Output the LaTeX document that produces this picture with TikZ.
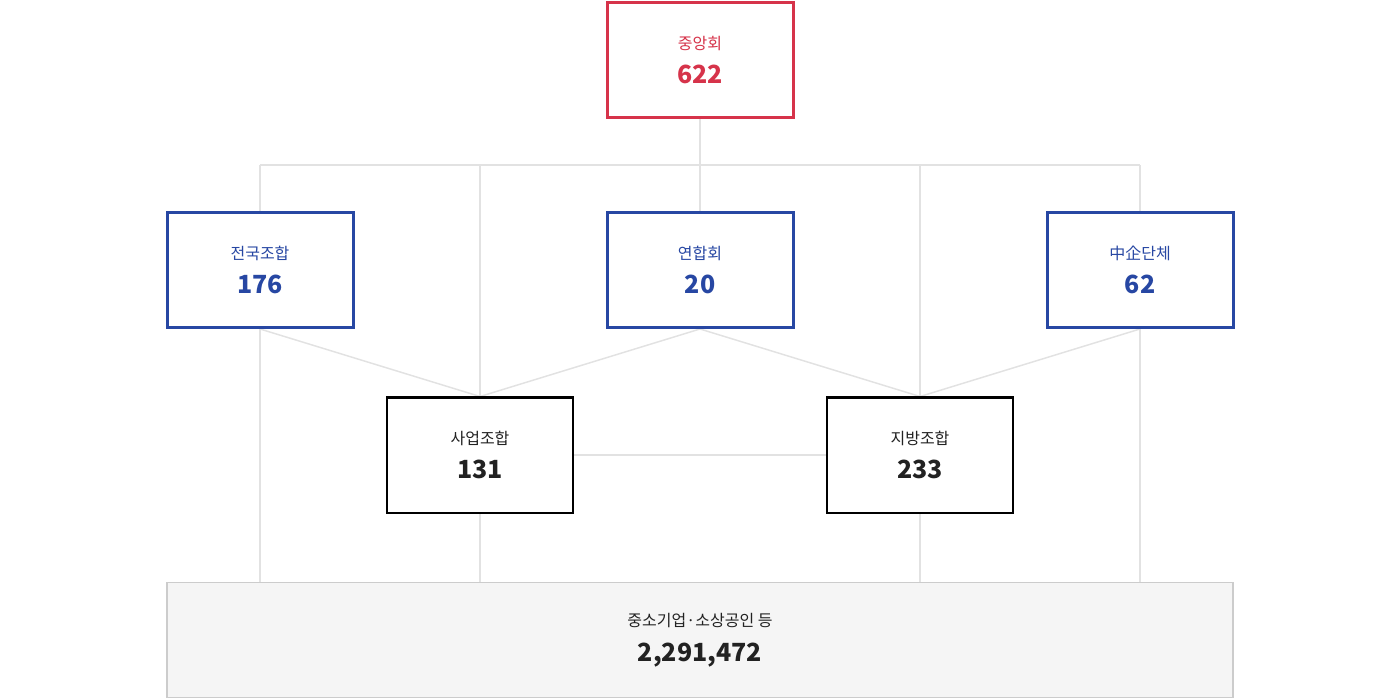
\documentclass[tikz,border=0pt]{standalone}
\usepackage{fontspec}
\setmainfont{Noto Sans CJK KR}
\usetikzlibrary{positioning,backgrounds}
\definecolor{redline}{HTML}{D6334A}
\definecolor{blueline}{HTML}{2747A3}
\definecolor{grayline}{HTML}{E2E2E2}
\definecolor{textdark}{HTML}{222222}
\tikzset{
  box/.style={draw, fill=white, minimum width=186pt, minimum height=115pt, align=center, inner sep=0pt},
  topbox/.style={box, draw=redline, line width=3pt, text=redline},
  midbox/.style={box, draw=blueline, line width=3pt, text=blueline},
  lowbox/.style={box, draw=black, line width=2pt, text=textdark},
  link/.style={draw=grayline, line width=1.5pt}
}
\newcommand{\boxtext}[2]{{\fontsize{16pt}{20pt}\selectfont #1}\\[14pt]{\fontsize{25pt}{28pt}\selectfont\bfseries #2}}

\begin{document}
\begin{tikzpicture}[x=1pt, y=-1pt]
  \useasboundingbox (0,0) rectangle (1400,700);

  \coordinate (jl) at (260,165);
  \coordinate (jbl) at (480,165);
  \coordinate (jbr) at (920,165);
  \coordinate (jr) at (1140,165);

  \node[topbox] (top) at (700,60) {\boxtext{중앙회}{622}};
  \node[midbox] (nat) at (260,270) {\boxtext{전국조합}{176}};
  \node[midbox] (fed) at (700,270) {\boxtext{연합회}{20}};
  \node[midbox] (sme) at (1140,270) {\boxtext{中企단체}{62}};
  \node[lowbox] (biz) at (480,455) {\boxtext{사업조합}{131}};
  \node[lowbox] (loc) at (920,455) {\boxtext{지방조합}{233}};
  \node[box, draw=black!20, line width=1.5pt, fill=black!4, text=textdark,
        minimum width=1066pt] (base) at (700,640) {\boxtext{중소기업·소상공인 등}{2,291,472}};

  % links behind the boxes
  \begin{scope}[on background layer]
  \path[link] (jl) -- (jr);
  \path[link] (top) -- (fed);
  \path[link] (jl) -- (nat);
  \path[link] (jr) -- (sme);
  \path[link] (jbl) -- (biz);
  \path[link] (jbr) -- (loc);
  \path[link] (nat.south) -- (biz.north);
  \path[link] (fed.south) -- (biz.north);
  \path[link] (fed.south) -- (loc.north);
  \path[link] (sme.south) -- (loc.north);
  \path[link] (biz) -- (loc);
  \path[link] (nat.south) -- (nat.south |- base.north);
  \path[link] (sme.south) -- (sme.south |- base.north);
  \path[link] (biz.south) -- (biz.south |- base.north);
  \path[link] (loc.south) -- (loc.south |- base.north);
  \end{scope}
\end{tikzpicture}
\end{document}
